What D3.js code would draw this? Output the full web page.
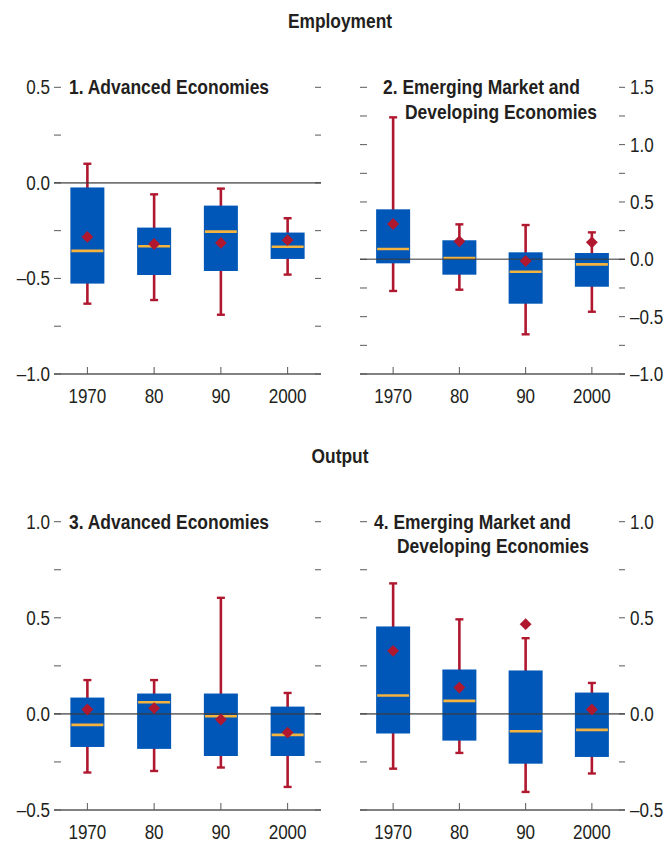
<!DOCTYPE html>
<html>
<head>
<meta charset="utf-8">
<script src="https://cdn.jsdelivr.net/npm/d3@7"></script>
<style>
  html, body { margin: 0; padding: 0; background: #fff; }
  svg { display: block; font-family: "Liberation Sans", Arial, sans-serif; }
</style>
</head>
<body>
<svg id="chart" width="670" height="842"></svg>
<script>
// ---------- DATA ----------
const categories = ["1970", "80", "90", "2000"];

// Panel 1: Employment, Advanced Economies
const p1WhiskerHigh = [0.10, -0.06, -0.03, -0.185];
const p1BoxHigh     = [-0.024, -0.234, -0.119, -0.26];
const p1Median      = [-0.356, -0.332, -0.255, -0.334];
const p1BoxLow      = [-0.527, -0.482, -0.461, -0.398];
const p1WhiskerLow  = [-0.632, -0.613, -0.69, -0.48];
const p1Mean        = [-0.283, -0.32, -0.314, -0.30];

// Panel 2: Employment, Emerging Market and Developing Economies
const p2WhiskerHigh = [1.238, 0.305, 0.299, 0.235];
const p2BoxHigh     = [0.436, 0.166, 0.061, 0.055];
const p2Median      = [0.09, 0.011, -0.108, -0.044];
const p2BoxLow      = [-0.035, -0.134, -0.387, -0.239];
const p2WhiskerLow  = [-0.276, -0.265, -0.654, -0.457];
const p2Mean        = [0.308, 0.157, -0.015, 0.148];

// Panel 3: Output, Advanced Economies
const p3WhiskerHigh = [0.176, 0.176, 0.604, 0.109];
const p3BoxHigh     = [0.085, 0.106, 0.106, 0.038];
const p3Median      = [-0.057, 0.061, -0.012, -0.109];
const p3BoxLow      = [-0.172, -0.182, -0.219, -0.219];
const p3WhiskerLow  = [-0.305, -0.297, -0.279, -0.38];
const p3Mean        = [0.023, 0.030, -0.029, -0.097];

// Panel 4: Output, Emerging Market and Developing Economies
const p4WhiskerHigh = [0.679, 0.492, 0.394, 0.161];
const p4BoxHigh     = [0.455, 0.231, 0.226, 0.111];
const p4Median      = [0.096, 0.068, -0.09, -0.083];
const p4BoxLow      = [-0.102, -0.139, -0.259, -0.224];
const p4WhiskerLow  = [-0.285, -0.203, -0.406, -0.31];
const p4Mean        = [0.328, 0.137, 0.467, 0.023];

const sectionTitles = ["Employment", "Output"];
const panelTitles = [
  ["1. Advanced Economies"],
  ["2. Emerging Market and", "Developing Economies"],
  ["3. Advanced Economies"],
  ["4. Emerging Market and", "Developing Economies"]
];
const yDomains = [[-1.0, 0.5], [-1.0, 1.5], [-0.5, 1.0], [-0.5, 1.0]];
const yTickStep = 0.25;
const yLabelStep = 0.5;

// ---------- STYLE / LAYOUT ----------
const BLUE = "#0057b8", RED = "#b0182f", ORANGE = "#f4b23e", TEXT = "#231f20", AXIS = "#58595b";
const svg = d3.select("#chart");

// condensed-looking text: regular font squeezed horizontally
function ctext(sel, x, y, str, opts) {
  const o = Object.assign({ size: 19.5, sx: 0.875, weight: "normal", anchor: "start", dy: null }, opts || {});
  const t = sel.append("text")
    .attr("transform", `translate(${x},${y}) scale(${o.sx},1)`)
    .attr("text-anchor", o.anchor)
    .attr("font-size", o.size)
    .attr("font-weight", o.weight)
    .attr("fill", TEXT)
    .text(str);
  if (o.dy) t.attr("dy", o.dy);
  return t;
}

const layouts = [
  { x0: 54,  x1: 321, yTop: 87.3,  yBot: 374, labelSide: "left",  titleX: [69],       titleY: [94.3] },
  { x0: 360, x1: 625, yTop: 87.3,  yBot: 374, labelSide: "right", titleX: [383, 405], titleY: [94.3, 118.7] },
  { x0: 54,  x1: 321, yTop: 521.7, yBot: 810, labelSide: "left",  titleX: [69],       titleY: [528.7] },
  { x0: 360, x1: 625, yTop: 521.7, yBot: 810, labelSide: "right", titleX: [374, 397], titleY: [528.7, 553.2] }
];

const panelData = [
  { hi: p1WhiskerHigh, q3: p1BoxHigh, med: p1Median, q1: p1BoxLow, lo: p1WhiskerLow, mean: p1Mean },
  { hi: p2WhiskerHigh, q3: p2BoxHigh, med: p2Median, q1: p2BoxLow, lo: p2WhiskerLow, mean: p2Mean },
  { hi: p3WhiskerHigh, q3: p3BoxHigh, med: p3Median, q1: p3BoxLow, lo: p3WhiskerLow, mean: p3Mean },
  { hi: p4WhiskerHigh, q3: p4BoxHigh, med: p4Median, q1: p4BoxLow, lo: p4WhiskerLow, mean: p4Mean }
];

// Section headers
ctext(svg, 340, 27.5, sectionTitles[0], { weight: "bold", anchor: "middle", size: 19.5, sx: 0.89 });
ctext(svg, 340, 462.5, sectionTitles[1], { weight: "bold", anchor: "middle", size: 19.5, sx: 0.89 });

const fmt = v => d3.format(".1f")(v).replace("−", "–").replace("-", "–");

panelData.forEach((pd, i) => {
  const L = layouts[i];
  const dom = yDomains[i];
  const g = svg.append("g");
  const x = d3.scaleBand().domain(categories).range([L.x0, L.x1]);
  const y = d3.scaleLinear().domain(dom).range([L.yBot, L.yTop]);
  const cx = c => x(c) + x.bandwidth() / 2;

  const n = Math.round((dom[1] - dom[0]) / yTickStep);
  const ticks = d3.range(n + 1).map(k => +(dom[0] + k * yTickStep).toFixed(4));

  // left and right tick marks (inside)
  g.selectAll(".tl").data(ticks).join("line")
    .attr("x1", L.x0).attr("x2", L.x0 + 7)
    .attr("y1", d => y(d)).attr("y2", d => y(d))
    .attr("stroke", AXIS).attr("stroke-width", 1);
  g.selectAll(".tr").data(ticks).join("line")
    .attr("x1", L.x1 - 6).attr("x2", L.x1)
    .attr("y1", d => y(d)).attr("y2", d => y(d))
    .attr("stroke", AXIS).attr("stroke-width", 1);

  // y labels
  const labelTicks = ticks.filter(t => Math.abs(t / yLabelStep - Math.round(t / yLabelStep)) < 1e-6);
  labelTicks.forEach(t => {
    ctext(g, L.labelSide === "left" ? L.x0 - 4 : L.x1 + 5, y(t) + 7, fmt(t),
      { anchor: L.labelSide === "left" ? "end" : "start" });
  });

  // baseline
  g.append("line").attr("x1", L.x0).attr("x2", L.x1)
    .attr("y1", y(dom[0])).attr("y2", y(dom[0]))
    .attr("stroke", AXIS).attr("stroke-width", 1.3);

  // x ticks and labels
  g.selectAll(".xt").data(categories).join("line")
    .attr("x1", cx).attr("x2", cx)
    .attr("y1", y(dom[0])).attr("y2", y(dom[0]) - 7)
    .attr("stroke", AXIS).attr("stroke-width", 1);
  categories.forEach(c => ctext(g, cx(c), y(dom[0]) + 28.5, c, { anchor: "middle" }));

  const boxW = 34, capW = 8;
  // whiskers
  g.selectAll(".wh").data(categories).join("line")
    .attr("x1", cx).attr("x2", cx)
    .attr("y1", (c, k) => y(pd.hi[k])).attr("y2", (c, k) => y(pd.lo[k]))
    .attr("stroke", RED).attr("stroke-width", 2.6);
  g.selectAll(".capH").data(categories).join("line")
    .attr("x1", c => cx(c) - capW / 2).attr("x2", c => cx(c) + capW / 2)
    .attr("y1", (c, k) => y(pd.hi[k])).attr("y2", (c, k) => y(pd.hi[k]))
    .attr("stroke", RED).attr("stroke-width", 2.4);
  g.selectAll(".capL").data(categories).join("line")
    .attr("x1", c => cx(c) - capW / 2).attr("x2", c => cx(c) + capW / 2)
    .attr("y1", (c, k) => y(pd.lo[k])).attr("y2", (c, k) => y(pd.lo[k]))
    .attr("stroke", RED).attr("stroke-width", 2.4);

  // boxes
  g.selectAll(".box").data(categories).join("rect")
    .attr("x", c => cx(c) - boxW / 2).attr("width", boxW)
    .attr("y", (c, k) => y(pd.q3[k]))
    .attr("height", (c, k) => y(pd.q1[k]) - y(pd.q3[k]))
    .attr("fill", BLUE);

  // medians
  g.selectAll(".med").data(categories).join("line")
    .attr("x1", c => cx(c) - boxW / 2 + 1).attr("x2", c => cx(c) + boxW / 2 - 1)
    .attr("y1", (c, k) => y(pd.med[k])).attr("y2", (c, k) => y(pd.med[k]))
    .attr("stroke", ORANGE).attr("stroke-width", 2.6);

  // zero line
  g.append("line").attr("x1", L.x0).attr("x2", L.x1)
    .attr("y1", y(0)).attr("y2", y(0))
    .attr("stroke", "#3a3a3a").attr("stroke-opacity", 0.7).attr("stroke-width", 1.6);

  // means (diamonds)
  const diamond = d3.symbol().type(d3.symbolSquare).size(70);
  g.selectAll(".mean").data(categories).join("path")
    .attr("d", diamond)
    .attr("transform", (c, k) => `translate(${cx(c)},${y(pd.mean[k])}) rotate(45)`)
    .attr("fill", RED);

  // titles
  panelTitles[i].forEach((t, j) => {
    ctext(g, L.titleX[j], L.titleY[j], t, { weight: "bold", size: 19.5, sx: 0.895 });
  });
});
</script>
</body>
</html>
